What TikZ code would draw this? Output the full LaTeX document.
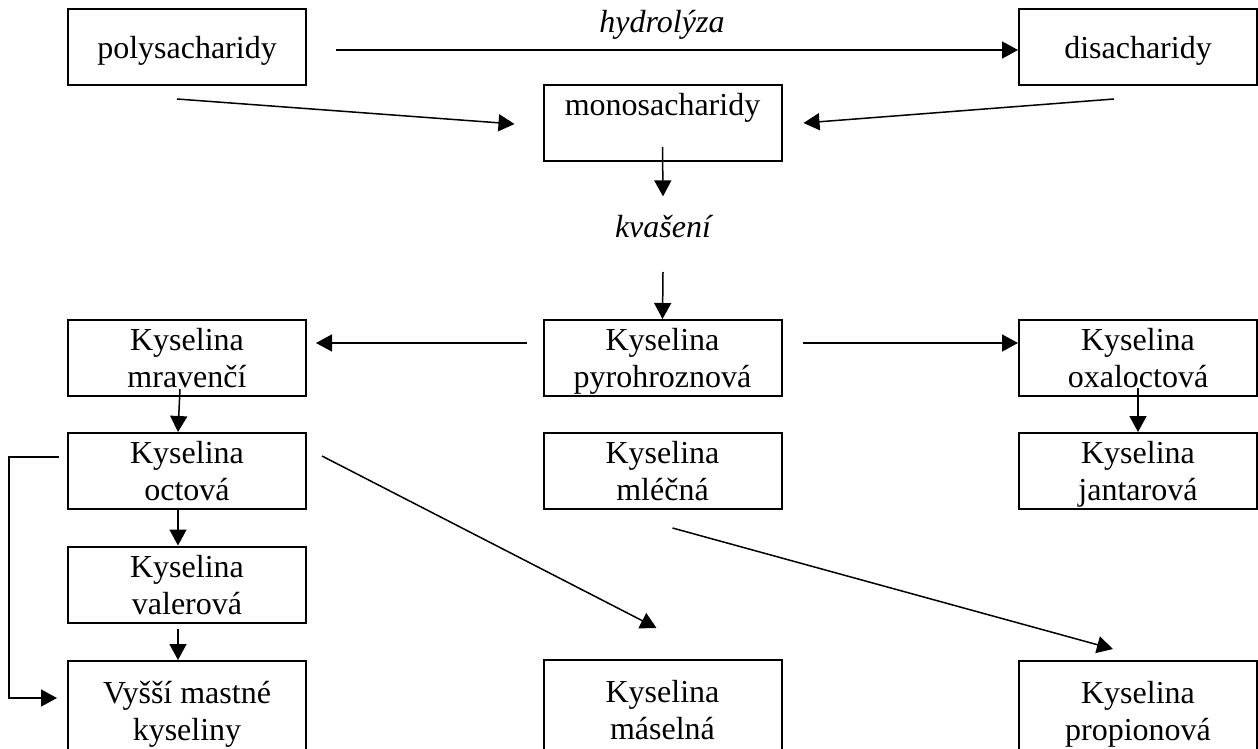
\documentclass[tikz,border=0pt]{standalone}
\usepackage{fontspec}
\setmainfont{Liberation Serif}
\usetikzlibrary{arrows.meta}

\begin{document}
\begin{tikzpicture}[
  x=0.5pt, y=-0.5pt,
  box/.style={rectangle, draw, line width=1pt, minimum width=119pt,
    minimum height=38pt, inner sep=0pt, align=center, text depth=0pt,
    font=\fontsize{16pt}{18.5pt}\selectfont},
  lowbox/.style={box, minimum height=50pt, anchor=north},
  lbl/.style={inner sep=0pt, anchor=base, font=\fontsize{16pt}{18.5pt}\selectfont\itshape},
  arr/.style={-{Triangle[length=8pt, width=8.5pt]}, line width=0.75pt}
]
\useasboundingbox (0,0) rectangle (1258,749);

% Top row: sugars
\node[box] (poly) at (187,47) {polysacharidy};
\node[box] (disa) at (1138,47) {disacharidy};
\node[box] (mono) at (662.5,123) {monosacharidy\\\mbox{}};
\node[lbl] (hydro) at (662,33) {hydrolýza};
\node[lbl] (kvas) at (663,237) {kvašení};

% Middle rows: acids
\node[box] (mrav) at (187,358) {Kyselina\\mravenčí};
\node[box] (pyro) at (662.5,358) {Kyselina\\pyrohroznová};
\node[box] (oxal) at (1138,358) {Kyselina\\oxaloctová};
\node[box] (octova) at (187,471) {Kyselina\\octová};
\node[box] (mlecna) at (662.5,471) {Kyselina\\mléčná};
\node[box] (jant) at (1138,471) {Kyselina\\jantarová};
\node[box] (valer) at (187,584.5) {Kyselina\\valerová};

% Bottom row (cut by the page edge)
\node[lowbox] (vyssi) at (187,660) {Vyšší mastné\\kyseliny};
\node[lowbox] (maseln) at (662.5,659) {Kyselina\\máselná};
\node[lowbox] (propion) at (1138,660) {Kyselina\\propionová};

% Arrows: sugars
\draw[arr] ([xshift=14.5pt,yshift=-1.5pt]poly.east) -- ([yshift=-1.5pt]disa.west);
\draw[arr] ([xshift=-5pt,yshift=-6.5pt]poly.south) -- ([xshift=-14pt,yshift=-0.5pt]mono.west);
\draw[arr] ([xshift=-12pt,yshift=-6.5pt]disa.south) -- ([xshift=10.5pt]mono.east);
\draw[arr] ([yshift=7.5pt]mono.south) -- ([yshift=9pt]kvas.north);
\draw[arr] ([yshift=-17.5pt]kvas.base) -- (pyro.north);

% Arrows: acids
\draw[arr] ([xshift=-8pt,yshift=7.5pt]pyro.west) -- ([xshift=4.5pt,yshift=7.5pt]mrav.east);
\draw[arr] ([xshift=10pt,yshift=7.5pt]pyro.east) -- ([yshift=7.5pt]oxal.west);
\draw[arr] ([xshift=-3.5pt,yshift=4pt]mrav.south) -- ([xshift=-4.5pt]octova.north);
\draw[arr] ([xshift=-4.5pt,yshift=1pt]octova.south) -- ([xshift=-4.5pt]valer.north);
\draw[arr] ([xshift=-4.5pt,yshift=-2.5pt]valer.south) -- ([xshift=-4.5pt]vyssi.north);
\draw[arr] ([xshift=-4pt,yshift=7pt]octova.west) -- ++(-25pt,0) |- ([xshift=-5pt,yshift=6.5pt]vyssi.west);
\draw[arr] ([xshift=7.5pt,yshift=7.5pt]octova.east) -- ([xshift=-3pt,yshift=15.5pt]maseln.north);
\draw[arr] ([xshift=5pt,yshift=-9pt]mlecna.south) -- ([xshift=-12.5pt,yshift=5.5pt]propion.north);
\draw[arr] ([yshift=4.5pt]oxal.south) -- (jant.north);

\end{tikzpicture}
\end{document}
